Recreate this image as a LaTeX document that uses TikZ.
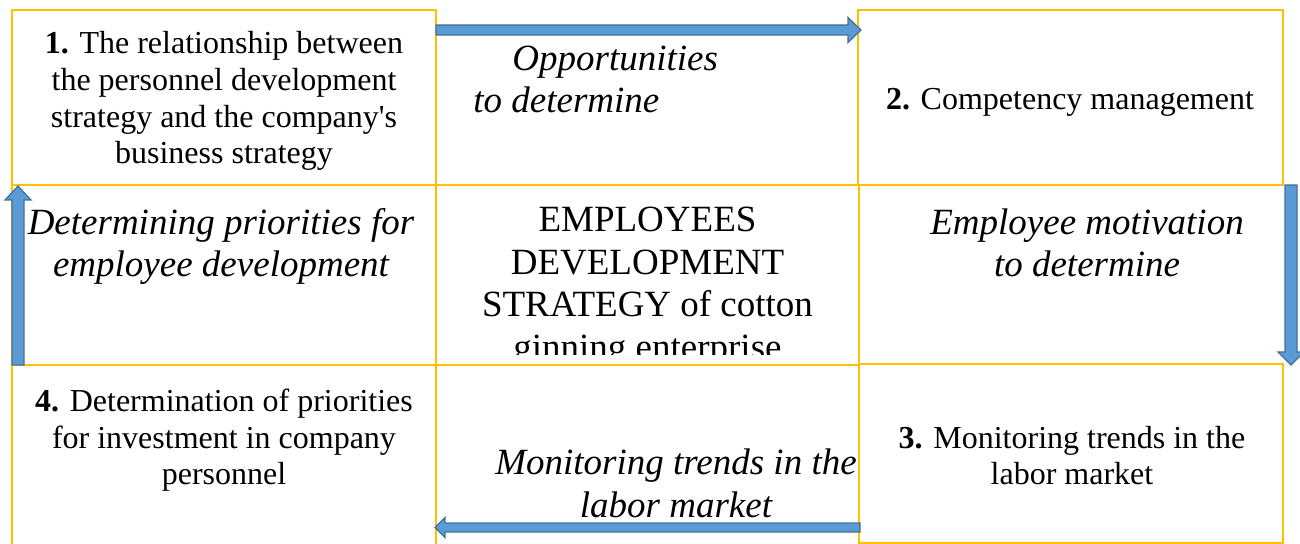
\documentclass[tikz,border=0pt]{standalone}
\usepackage{fontspec}
\setmainfont{Liberation Serif}
\usetikzlibrary{calc}
\definecolor{gold}{HTML}{FFC000}
\definecolor{arrowfill}{HTML}{5B9BD5}
\definecolor{arrowline}{HTML}{41719C}
\newcommand\blockarr[6]{%
  \coordinate (#6b) at ($(#2)!#5!(#1)$);
  \draw[blockarrow] ($(#1)!#3!90:(#2)$) -- ($(#6b)!#3!-90:(#1)$) -- ($(#6b)!#4!-90:(#1)$) -- (#2)
     -- ($(#6b)!#4!90:(#1)$) -- ($(#6b)!#3!90:(#1)$) -- ($(#1)!#3!-90:(#2)$) -- cycle;
}
\begin{document}
\begin{tikzpicture}[x=0.5pt,y=-0.5pt,
  border/.style={draw=gold,line width=1pt},
  cell/.style={inner sep=0pt,outer sep=0pt},
  numtext/.style={align=center,inner sep=0pt,font=\fontsize{16}{18.4}\selectfont,anchor=base},
  lbl/.style={align=center,inner sep=0pt,font=\fontsize{18.5}{21.2}\selectfont\itshape,anchor=base},
  ctrtext/.style={align=center,inner sep=0pt,font=\fontsize{18.5}{21.25}\selectfont,anchor=base},
  blockarrow/.style={fill=arrowfill,draw=arrowline,line width=0.6pt,line join=miter}
]
\useasboundingbox (0,0) rectangle (1300,544);
\clip (0,0) rectangle (1300,544);
% cells
\node[cell,border,minimum width=212pt,minimum height=87.5pt] (b1) at (224,97.5) {};
\node[cell,border,minimum width=212.5pt,minimum height=87.5pt] (b2) at (1070.5,97.5) {};
\node[cell,border,minimum width=212pt,minimum height=89.5pt] (b3) at (1071,453.5) {};
\node[cell,border,minimum width=212pt,minimum height=97.5pt] (b4) at (224,462.5) {};
\node[cell,border,minimum width=211.5pt,minimum height=90pt] (mC) at (647.5,275) {};
\draw[border] (b1.south west) -- (b4.north west);
% texts (base = baseline of the last line)
\node[numtext] (t1) at (224,164) {\textbf{1.} The relationship between\\the personnel development\\strategy and the company\textquotesingle s\\business strategy};
\node[numtext] (t2) at (1070,110) {\textbf{2.} Competency management};
\node[numtext] (t3) at (1072,485) {\textbf{3.} Monitoring trends in the\\labor market};
\node[numtext] (t4) at (224,485) {\textbf{4.} Determination of priorities\\for investment in company\\personnel};
\node[lbl,align=left,anchor=base west] (l1) at (473,113) {\hspace*{19.5pt}Opportunities\\to determine};
\node[lbl] (l2) at (221,277) {Determining priorities for\\employee development};
\node[lbl] (l3) at (1087,277) {Employee motivation\\to determine};
\node[lbl] (l4) at (676,517) {Monitoring trends in the\\labor market};
\begin{scope}
  \clip (mC.north west) rectangle ($(mC.north east)+(0,170)$);
  \node[ctrtext] (ctr) at (647.5,359.5) {EMPLOYEES\\DEVELOPMENT\\STRATEGY of cotton\\ginning enterprise};
\end{scope}
% arrows
\coordinate (a1s) at ($(b1.north east)+(0,20)$);
\coordinate (a1t) at ($(b2.north west)+(3,20)$);
\blockarr{a1s}{a1t}{2.5pt}{6.25pt}{6.5pt}{a1}
\coordinate (a2s) at ($(b2.south east)+(8,0)$);
\coordinate (a2t) at ($(b3.north east)+(8,1)$);
\blockarr{a2s}{a2t}{3pt}{6.5pt}{6.5pt}{a2}
\coordinate (a3s) at ($(b3.south west)+(1,-15.5)$);
\coordinate (a3t) at ($(b4.north east)+(-1,162.5)$);
\blockarr{a3s}{a3t}{2.25pt}{5pt}{5pt}{a3}
\coordinate (a4s) at ($(b4.north west)+(6,0)$);
\coordinate (a4t) at ($(b1.south west)+(6,1)$);
\blockarr{a4s}{a4t}{3pt}{6.5pt}{7pt}{a4}
\end{tikzpicture}
\end{document}
